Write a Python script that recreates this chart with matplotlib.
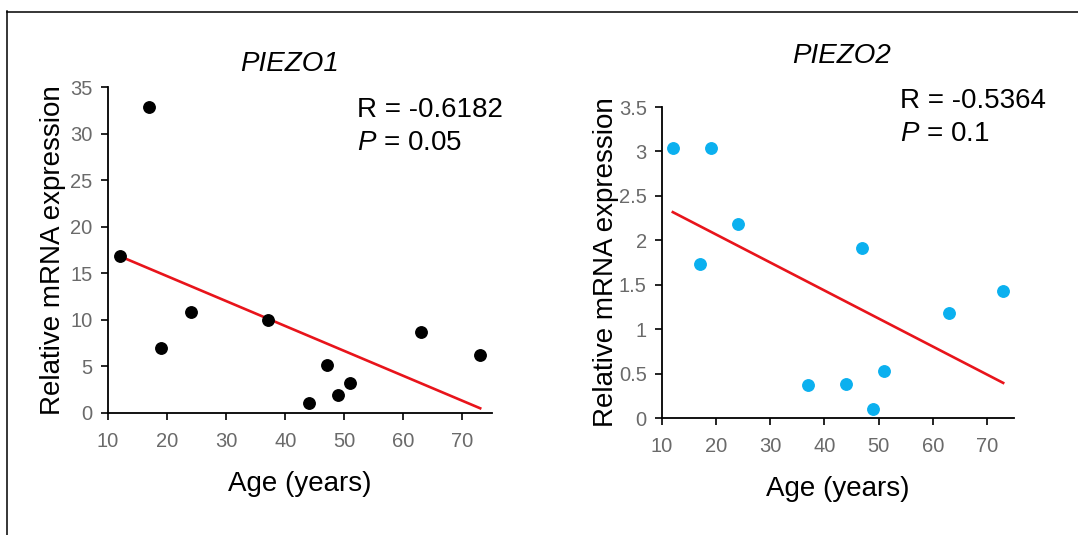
import numpy as np
import matplotlib
matplotlib.use("Agg")
import matplotlib.pyplot as plt
from matplotlib.lines import Line2D

# ---- data ----
age = [12, 17, 19, 24, 37, 44, 47, 49, 51, 63, 73]
piezo1 = [16.9, 32.9, 7.0, 10.8, 10.0, 1.05, 5.1, 1.95, 3.2, 8.7, 6.2]
piezo2 = [3.04, 1.73, 3.04, 2.18, 0.376, 0.387, 1.91, 0.105, 0.53, 1.18, 1.43]
titles = ["PIEZO1", "PIEZO2"]
r_texts = ["R = -0.6182", "R = -0.5364"]
p_vals = ["0.05", "0.1"]
x_ticks = [10, 20, 30, 40, 50, 60, 70]
y_ticks1 = [0, 5, 10, 15, 20, 25, 30, 35]
y_ticks2 = [0, 0.5, 1, 1.5, 2, 2.5, 3, 3.5]
y_ticklabels2 = ["0", "0.5", "1", "1.5", "2", "2.5", "3", "3.5"]

plt.rcParams['font.family'] = ['Liberation Sans', 'DejaVu Sans']
plt.rcParams['mathtext.fontset'] = 'custom'
plt.rcParams['mathtext.rm'] = 'Liberation Sans'
plt.rcParams['mathtext.it'] = 'Liberation Sans:italic'

W, H = 1078, 535
fig = plt.figure(figsize=(W / 100, H / 100), dpi=100)

def rect(x0, y0, x1, y1):
    return [x0 / W, 1 - y1 / H, (x1 - x0) / W, (y1 - y0) / H]

ax1 = fig.add_axes(rect(108, 87, 492, 413))
ax2 = fig.add_axes(rect(662, 107, 1014, 418))

tick_gray = '#6a6a6a'
red = '#e8141b'

def style(ax, yt, ytl, ylim, ypad):
    ax.set_xlim(10, 75)
    ax.set_ylim(*ylim)
    ax.set_xticks(x_ticks)
    ax.set_yticks(yt)
    ax.set_yticklabels(ytl)
    for s in ['top', 'right']:
        ax.spines[s].set_visible(False)
    for s in ['left', 'bottom']:
        ax.spines[s].set_linewidth(1.3)
        ax.spines[s].set_color('black')
    ax.tick_params(direction='out', length=5, width=1.2, color='black',
                   labelcolor=tick_gray, labelsize=14.5)
    ax.tick_params(axis='x', pad=9)
    ax.tick_params(axis='y', pad=6)
    ax.set_xlabel("Age (years)", fontsize=20, labelpad=14)
    ax.set_ylabel("Relative mRNA expression", fontsize=20, labelpad=ypad)

def fit_line(ax, x, y):
    x = np.asarray(x, float); y = np.asarray(y, float)
    m, b = np.polyfit(x, y, 1)
    xs = np.array([x.min(), x.max()])
    ax.plot(xs, m * xs + b, color=red, lw=1.9, zorder=3)

ax1.scatter(age, piezo1, s=68, color='black', zorder=4, clip_on=False)
fit_line(ax1, age, piezo1)
style(ax1, y_ticks1, [str(v) for v in y_ticks1], (0, 35), 3)

ax2.scatter(age, piezo2, s=68, color='#0bb0ef', zorder=4, clip_on=False)
fit_line(ax2, age, piezo2)
style(ax2, y_ticks2, y_ticklabels2, (0, 3.5), 0)

# titles
fig.text(290 / W, 1 - 64 / H, titles[0], fontsize=20, style='italic',
         ha='center', va='center')
fig.text(842 / W, 1 - 56 / H, titles[1], fontsize=20, style='italic',
         ha='center', va='center')

# stats
fig.text(357 / W, 1 - 110 / H, r_texts[0], fontsize=20, ha='left', va='center')
fig.text(357 / W, 1 - 143 / H, r"$\it{P}$ = " + p_vals[0], fontsize=20,
         ha='left', va='center')
fig.text(900 / W, 1 - 101 / H, r_texts[1], fontsize=20, ha='left', va='center')
fig.text(900 / W, 1 - 134 / H, r"$\it{P}$ = " + p_vals[1], fontsize=20,
         ha='left', va='center')

# frame lines (top and left)
fig.add_artist(Line2D([7 / W, 1.0], [1 - 12 / H, 1 - 12 / H], color='black',
                      lw=1.1, transform=fig.transFigure))
fig.add_artist(Line2D([7 / W, 7 / W], [1 - 11 / H, 0], color='black',
                      lw=1.1, transform=fig.transFigure))

fig.savefig("out.png", dpi=100, facecolor='white')
